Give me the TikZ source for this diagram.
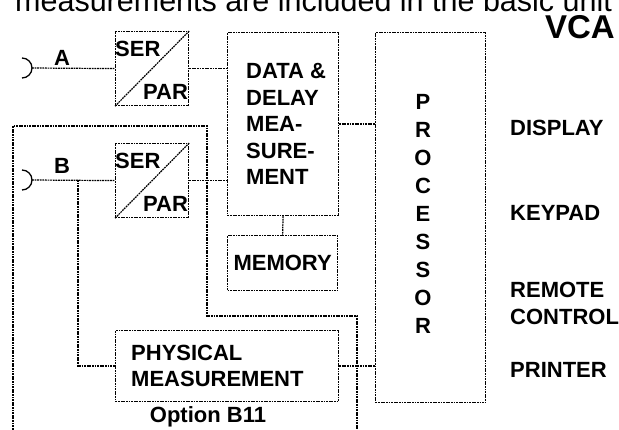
\documentclass[tikz,border=0pt]{standalone}
\usepackage{fontspec}
\setmainfont{Liberation Sans}
\usepackage{tikz}
\usetikzlibrary{calc,positioning}

\tikzset{
  wire/.style={line width=1.2pt, dash pattern=on 1.8pt off 0.8pt},
  plug/.style={line width=1.3pt},
  blk/.style={wire, draw, inner sep=0pt, anchor=north west},
  lbl/.style={font=\fontsize{22}{26.5}\selectfont\bfseries, inner sep=0pt, align=left},
}

\begin{document}
\begin{tikzpicture}[x=1pt, y=-1pt]
            \useasboundingbox (0,0) rectangle (619,430);
            \clip (0,0) rectangle (619,430);

            \node[font=\fontsize{30.5}{30}\selectfont, anchor=base west, inner sep=0pt] (title) at (15,12) {measurements are included in the basic unit};
            \node[font=\fontsize{33}{33}\selectfont\bfseries, anchor=base east, inner sep=0pt] (vca) at (615,39) {VCA};

            \node[blk, minimum width=73pt, minimum height=74pt] (spA) at (115,31) {};
            \node[blk, minimum width=73pt, minimum height=74pt] (spB) at (115,143) {};
            \node[blk, minimum width=111pt, minimum height=183pt] (data) at (227,32) {};
            \node[blk, minimum width=110pt, minimum height=55pt] (mem) at (227,235) {};
            \node[blk, minimum width=110pt, minimum height=370pt] (proc) at (375,32) {};
            \node[blk, minimum width=223pt, minimum height=71pt] (phys) at (115,330) {};

            \coordinate (inA) at (32,68);
            \coordinate (inB) at (32,180);
            \coordinate (brB) at (78,180);
            \coordinate (loopS) at (13,440);
            \coordinate (lpA) at (207,126);
            \coordinate (lpB) at (357,316);
            \coordinate (loopE) at (357,440);

            \draw[plug] ([shift={(-10,-10)}]inA) arc[start angle=-90, end angle=90, radius=10];
            \draw[plug] ([shift={(-10,-10)}]inB) arc[start angle=-90, end angle=90, radius=10];

            \draw[wire] (inA) -- (spA.west);
            \draw[wire] (inB) -- (spB.west);
            \draw[wire] (brB) |- (phys.west);
            \draw[wire] (spA.south west) -- (spA.north east);
            \draw[wire] (spB.south west) -- (spB.north east);
            \draw[wire] (spA.east) -- (spA.east -| data.west);
            \draw[wire] (spB.east) -- (spB.east -| data.west);
            \draw[wire] (data.east) -- (data.east -| proc.west);
            \draw[wire] (data.south) -- (mem.north);
            \draw[wire] (phys.east) -- (phys.east -| proc.west);
            \draw[wire] (loopS) |- (lpA) |- (lpB) -- (loopE);

            \node[lbl] (labA) at (62,58) {A};
            \node[lbl] (labB) at (62,166) {B};
            \node[lbl, below right=10pt and 0pt of spA.north west] (serA) {SER};
            \node[lbl, above left=6pt and 1pt of spA.south east] (parA) {PAR};
            \node[lbl, below right=10pt and 0pt of spB.north west] (serB) {SER};
            \node[lbl, above left=6pt and 1pt of spB.south east] (parB) {PAR};
            \node[lbl, right=19pt of data.west] (dataT) {DATA \&\\DELAY\\MEA-\\SURE-\\MENT};
            \node[lbl] (memT) at (mem.center) {MEMORY};
            \node[lbl, font=\fontsize{22}{26}\selectfont\bfseries, right=16pt of phys.west] (physT) {PHYSICAL\\MEASUREMENT};
            \node[lbl] (opt) at (208,417) {Option B11};

            \foreach \l [count=\i] in {P,R,O,C,E,S,S,O,R}
                \node[lbl] (proc\i) at (423,74+28*\i) {\l};

            \node[lbl, anchor=west] (disp) at (510,128) {DISPLAY};
            \node[lbl, anchor=west] (keyp) at (510,213) {KEYPAD};
            \node[lbl, anchor=west, font=\fontsize{22}{27}\selectfont\bfseries] (remo) at (510,303.5) {REMOTE\\CONTROL};
            \node[lbl, anchor=west] (prnt) at (510,370) {PRINTER};
\end{tikzpicture}
\end{document}
